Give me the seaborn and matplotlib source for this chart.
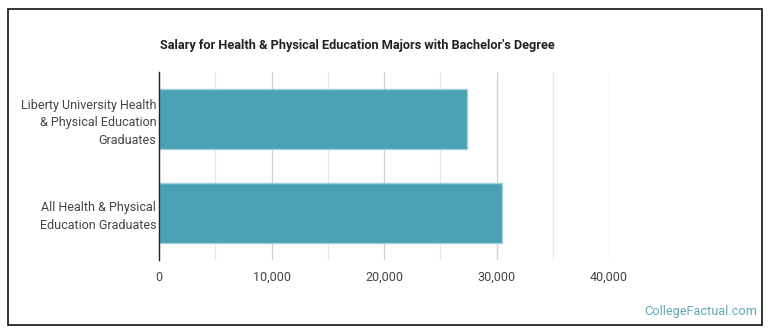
import matplotlib
matplotlib.use("Agg")
import matplotlib.pyplot as plt
import seaborn as sns
import pandas as pd
from matplotlib.patches import Rectangle
from matplotlib.ticker import FuncFormatter, MultipleLocator

categories = ["Liberty University Health\n& Physical Education\nGraduates",
              "All Health & Physical\nEducation Graduates"]
salaries = [27400, 30500]
xticks = [0, 10000, 20000, 30000, 40000]

sns.set_theme(style="white")
plt.rcParams["font.family"] = ["Roboto", "DejaVu Sans"]

df = pd.DataFrame({"category": categories, "salary": salaries})

W, H = 770, 335
fig = plt.figure(figsize=(W / 100, H / 100), dpi=100)
ax = fig.add_axes([159 / W, 1 - 260 / H, (609 - 159) / W, (260 - 72) / H])

sns.barplot(data=df, x="salary", y="category", ax=ax, color="#4aa0b5",
            saturation=1, width=0.64, edgecolor="#9fd0da", linewidth=1.0)

ax.set_xlim(0, 40000)
ax.xaxis.set_minor_locator(MultipleLocator(5000))
ax.set_xticks(xticks)
ax.xaxis.set_major_formatter(FuncFormatter(lambda v, p: f"{int(v):,}"))
ax.grid(axis="x", which="major", color="#d0d0d0", linewidth=0.9)
ax.grid(axis="x", which="minor", color="#e6e6e6", linewidth=0.9)
ax.set_axisbelow(True)
for s in ["top", "right", "bottom"]:
    ax.spines[s].set_visible(False)
ax.spines["left"].set_color("#222222")
ax.spines["left"].set_linewidth(1.0)
ax.tick_params(axis="both", which="both", length=0, labelsize=9, labelcolor="#444444")
ax.tick_params(axis="x", pad=8)
ax.tick_params(axis="y", pad=2)
for lbl in ax.get_yticklabels():
    lbl.set_linespacing(1.45)
ax.set_xlabel("")
ax.set_ylabel("")

fig.text(160 / W, 1 - 45 / H, "Salary for Health & Physical Education Majors with Bachelor's Degree",
         fontsize=9.2, fontweight="bold", color="#222222", ha="left", va="center")
fig.text(757 / W, 1 - 311 / H, "CollegeFactual.com", fontsize=9.2,
         color="#5fa9bd", ha="right", va="center")

fig.patches.append(Rectangle((8 / W, 1 - 325 / H), (762 - 8) / W, (325 - 9) / H,
                             transform=fig.transFigure, fill=False,
                             edgecolor="#111111", linewidth=1.2))

fig.savefig("out.png", dpi=100, facecolor="white")
